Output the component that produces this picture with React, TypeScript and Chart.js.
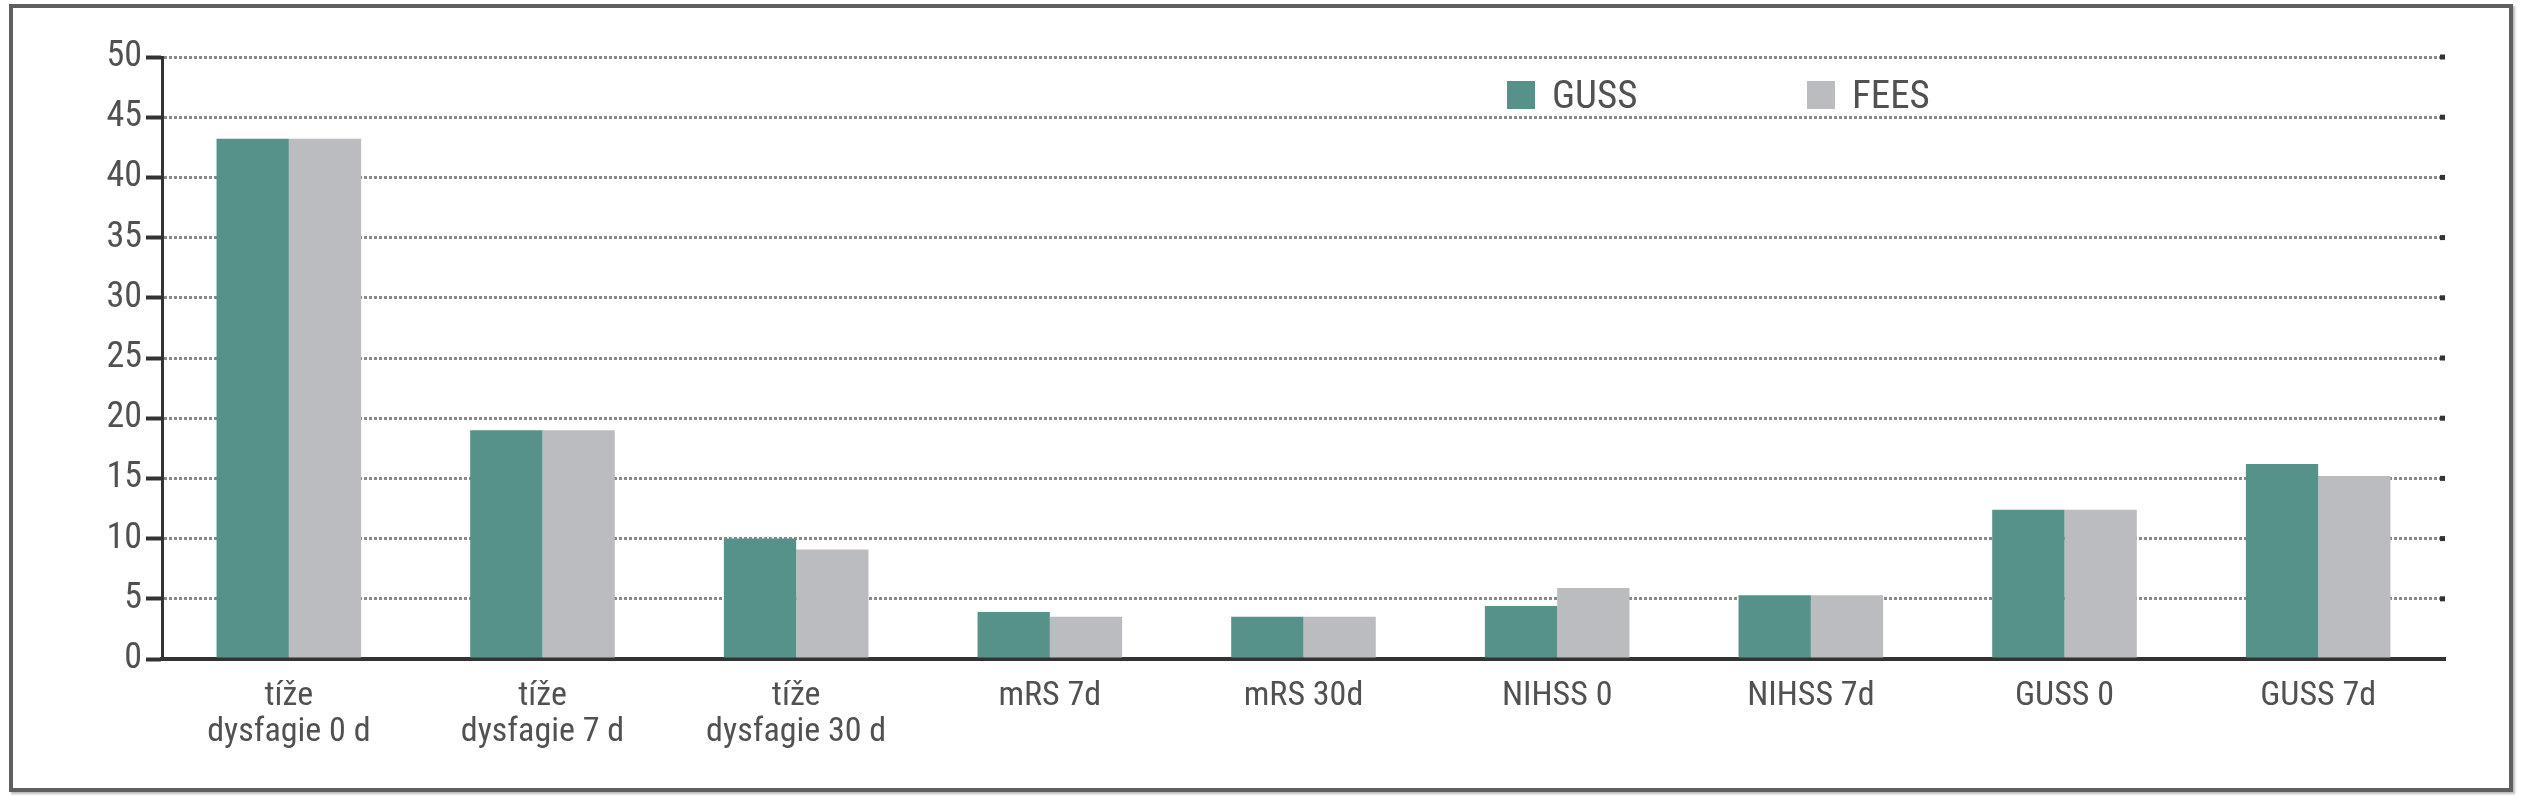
import React, { useEffect, useRef } from 'react';
import { Chart, registerables } from 'chart.js';

Chart.register(...registerables);

const categories = [
  ['tíže', 'dysfagie 0 d'],
  ['tíže', 'dysfagie 7 d'],
  ['tíže', 'dysfagie 30 d'],
  'mRS 7d',
  'mRS 30d',
  'NIHSS 0',
  'NIHSS 7d',
  'GUSS 0',
  'GUSS 7d',
];
const seriesNames = ['GUSS', 'FEES'];
const gussValues = [43.2, 19, 10, 3.9, 3.5, 4.4, 5.3, 12.4, 16.2];
const feesValues = [43.2, 19, 9.1, 3.5, 3.5, 5.9, 5.3, 12.4, 15.2];
const seriesColors = ['#56918a', '#bbbcbf'];
const yTicks = [0, 5, 10, 15, 20, 25, 30, 35, 40, 45, 50];

const FONT = '"Roboto Condensed", "Open Sans Condensed", "Liberation Sans Narrow", "DejaVu Sans Condensed", sans-serif';
const TEXT = '#515151';

// small dark caps at the right end of each grid line, like the original
const gridEnds = {
  id: 'gridEnds',
  afterDatasetsDraw(chart: any) {
    const { ctx, chartArea, scales } = chart;
    ctx.save();
    ctx.fillStyle = '#333';
    scales.y.ticks.forEach((t: any) => {
      if (t.value === 0) return;
      const y = scales.y.getPixelForValue(t.value);
      ctx.fillRect(chartArea.right - 5, y - 2.5, 5, 5);
    });
    ctx.restore();
  },
};

const App = () => {
  const canvasRef = useRef<HTMLCanvasElement | null>(null);

  useEffect(() => {
    if (!canvasRef.current) return;
    const chart = new Chart(canvasRef.current, {
      type: 'bar',
      data: {
        labels: categories,
        datasets: [
          { label: seriesNames[0], data: gussValues, backgroundColor: seriesColors[0] },
          { label: seriesNames[1], data: feesValues, backgroundColor: seriesColors[1] },
        ],
      },
      options: {
        responsive: false,
        animation: false,
        layout: { padding: { top: 57, right: 90, left: 0, bottom: 0 } },
        datasets: { bar: { categoryPercentage: 0.57, barPercentage: 1 } },
        plugins: { legend: { display: false }, tooltip: { enabled: false } },
        scales: {
          x: {
            grid: { display: true, drawOnChartArea: false, drawTicks: false },
            border: { display: true, color: '#333', width: 4 },
            ticks: {
              color: TEXT,
              font: { family: FONT, size: 34, lineHeight: 1.05 },
              padding: 20,
              maxRotation: 0,
              autoSkip: false,
            },
            afterFit: (s: any) => { s.height = 141; },
          },
          y: {
            min: 0,
            max: 50,
            afterBuildTicks: (s: any) => { s.ticks = yTicks.map((v) => ({ value: v })); },
            grid: { color: '#8a8a8a', lineWidth: 3, tickLength: 16, tickColor: '#333', tickWidth: 4 },
            border: { display: true, color: '#333', width: 3, dash: [3, 2] },
            ticks: { color: TEXT, font: { family: FONT, size: 36 }, padding: 4 },
            afterFit: (s: any) => { s.width = 162; },
          },
        },
      },
      plugins: [gridEnds],
    });
    return () => chart.destroy();
  }, []);

  return (
    <div style={{ position: 'fixed', left: 0, top: 0, width: 2535, height: 800, background: '#fff' }}>
      <div
        style={{
          position: 'absolute', left: 9, top: 4, width: 2496, height: 780,
          border: '4px solid #5f5f5f', boxShadow: '2px 2px 2px #bbb',
        }}
      />
      <canvas ref={canvasRef} width={2535} height={800} style={{ position: 'absolute', left: 0, top: 0 }} />
      {seriesNames.map((name, i) => (
        <div
          key={name}
          style={{
            position: 'absolute', left: [1507, 1807][i], top: 73, display: 'flex', alignItems: 'center',
            fontFamily: FONT, fontSize: 39, color: TEXT, height: 44,
          }}
        >
          <span style={{ display: 'inline-block', width: 28, height: 28, background: seriesColors[i], marginRight: 17 }} />
          {name}
        </div>
      ))}
    </div>
  );
};

export default App;
